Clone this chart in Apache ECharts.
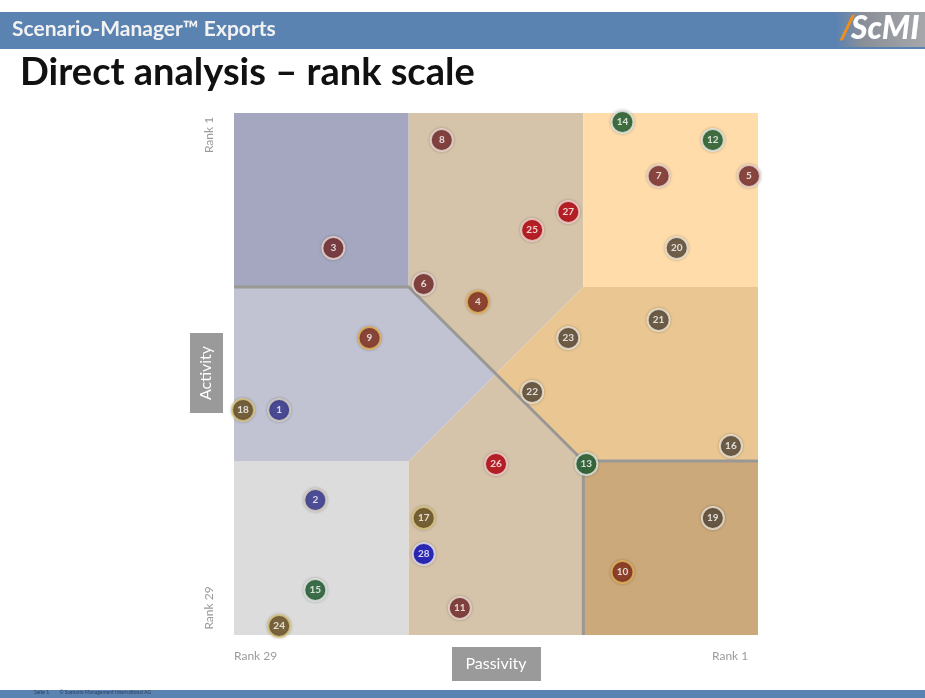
<!DOCTYPE html>
<html>
<head>
<meta charset="utf-8">
<script src="https://cdn.jsdelivr.net/npm/echarts@6/dist/echarts.min.js"></script>
<style>
  html, body { margin: 0; padding: 0; background: #fff; }
  #chart { width: 925px; height: 698px; }
</style>
</head>
<body>
<div id="chart"></div>
<script>
// factor numbers and their ranks (1 = highest)
const factors = ['1','2','3','4','5','6','7','8','9','10','11','12','13','14','15','16','17','18','19','20','21','22','23','24','25','26','27','28'];
const passivityRank = [27,25,24,16,1,19,6,18,22,8,17,3,10,8,25,2,19,29,3,5,6,13,11,27,13,15,11,19];
const activityRank  = [17,22,8,11,4,10,4,2,13,26,28,2,20,1,27,19,23,17,23,8,12,16,13,29,7,20,6,25];
const factorGroup = ['blue','blue','maroon','rust','maroon','maroon','maroon','maroon','rust','rust','maroon','green','green','green','green','slate','olive','olive','slate','slate','slate','slate','slate','olive','red','red','red','royal'];
const rankCount = 29;

// colours per group
const groupFill = {
  blue: '#34348f', maroon: '#762a2c', rust: '#842e1c', green: '#1d5c2e',
  slate: '#594a39', olive: '#6a5020', red: '#b8000e', royal: '#0a0ac0'
};
const groupRing = {
  blue: '#ddd7c8', maroon: '#f1dcd6', rust: '#e8b65c', green: '#e6eee6',
  slate: '#f3eadb', olive: '#e0cc86', red: '#f6d4d0', royal: '#e8e4f0'
};

// region borders in rank units (the square is split in thirds)
const lo = rankCount + 0.5, hi = 0.5;
const t1 = lo - rankCount / 3, t2 = hi + rankCount / 3, mid = (lo + hi) / 2;
const regions = [
  {c: '#a4a7bf', p: [[lo,hi],[t1,hi],[t1,t2],[lo,t2]]},
  {c: '#d6c4aa', p: [[t1,hi],[t2,hi],[t2,t2],[mid,mid],[t1,t2]]},
  {c: '#ffdca9', p: [[t2,hi],[hi,hi],[hi,t2],[t2,t2]]},
  {c: '#c1c3d3', p: [[lo,t2],[t1,t2],[mid,mid],[t1,t1],[lo,t1]]},
  {c: '#eac792', p: [[t2,t2],[hi,t2],[hi,t1],[t2,t1],[mid,mid]]},
  {c: '#dcdcdc', p: [[lo,t1],[t1,t1],[t1,lo],[lo,lo]]},
  {c: '#d6c4aa', p: [[t1,t1],[mid,mid],[t2,t1],[t2,lo],[t1,lo]]},
  {c: '#cba97b', p: [[t2,t1],[hi,t1],[hi,lo],[t2,lo]]}
];
const borders = [
  [[lo,t2],[t1,t2],[t2,t1],[hi,t1]],
  [[t2,t1],[t2,lo]]
];

const chart = echarts.init(document.getElementById('chart'));

const points = factors.map((f, i) => ({
  name: f,
  value: [passivityRank[i], activityRank[i]],
  itemStyle: { color: groupFill[factorGroup[i]], borderColor: groupRing[factorGroup[i]] }
}));

const font = 'Lato, "Open Sans", sans-serif';

chart.setOption({
  backgroundColor: '#fff',
  animation: false,
  grid: { left: 234, top: 113, width: 524, height: 522 },
  xAxis: { type: 'value', min: hi, max: lo, inverse: true, show: false },
  yAxis: { type: 'value', min: hi, max: lo, inverse: true, show: false },
  graphic: [
    { type: 'rect', shape: { x: 0, y: 12, width: 925, height: 37 }, style: { fill: '#5b83b2' } },
    { type: 'rect', shape: { x: 836, y: 12, width: 89, height: 35 },
      style: { fill: new echarts.graphic.LinearGradient(0, 0, 1, 0, [{offset: 0, color: '#5b83b2'}, {offset: 0.3, color: '#8a8f98'}, {offset: 1, color: '#a5a7aa'}]) } },
    { type: 'text', left: 12, top: 19, style: { text: 'Scenario-Manager™ Exports', fill: '#f2f2f2', font: 'bold 21px ' + font } },
    { type: 'text', left: 840, top: 12, style: { text: '/', fill: '#f0901a', font: 'italic bold 33px ' + font } },
    { type: 'text', left: 851, top: 13, style: { text: 'ScMI', fill: '#ffffff', font: 'italic 900 32px ' + font } },
    { type: 'text', left: 20, top: 54, style: { text: 'Direct analysis – rank scale', fill: '#111', font: 'bold 38px ' + font } },
    // axis captions
    { type: 'text', x: 209, y: 135, rotation: Math.PI / 2, style: { text: 'Rank 1', fill: '#9b9b9b', font: '12px ' + font, align: 'center', verticalAlign: 'middle' } },
    { type: 'text', x: 209, y: 608, rotation: Math.PI / 2, style: { text: 'Rank 29', fill: '#9b9b9b', font: '12px ' + font, align: 'center', verticalAlign: 'middle' } },
    { type: 'rect', shape: { x: 190, y: 333, width: 33, height: 80 }, style: { fill: '#9a9a9a' } },
    { type: 'text', x: 206, y: 373, rotation: Math.PI / 2, style: { text: 'Activity', fill: '#fff', font: '16px ' + font, align: 'center', verticalAlign: 'middle' } },
    { type: 'text', left: 234, top: 650, style: { text: 'Rank 29', fill: '#9b9b9b', font: '12px ' + font } },
    { type: 'text', left: 712, top: 650, style: { text: 'Rank 1', fill: '#9b9b9b', font: '12px ' + font } },
    { type: 'rect', shape: { x: 452, y: 647, width: 89, height: 34 }, style: { fill: '#9a9a9a' } },
    { type: 'text', x: 496, y: 664, style: { text: 'Passivity', fill: '#fff', font: '16px ' + font, align: 'center', verticalAlign: 'middle' } },
    // footer
    { type: 'rect', shape: { x: 0, y: 690, width: 925, height: 8 }, style: { fill: '#5b83b2' } },
    { type: 'text', left: 34, top: 690, style: { text: 'Seite 1        © Scenario Management International AG', fill: '#2c3f5a', font: '5px ' + font } }
  ],
  series: [
    {
      type: 'custom',
      silent: true,
      data: regions.map((r, i) => i),
      renderItem: (params, api) => {
        const r = regions[api.value(0)];
        return { type: 'polygon', shape: { points: r.p.map(p => api.coord(p)) }, style: { fill: r.c } };
      },
      z: 1
    },
    {
      type: 'custom',
      silent: true,
      data: borders.map((b, i) => i),
      renderItem: (params, api) => {
        const b = borders[api.value(0)];
        return { type: 'polyline', shape: { points: b.map(p => api.coord(p)) }, style: { stroke: '#9a9895', lineWidth: 3, fill: null } };
      },
      z: 2
    },
    {
      type: 'scatter',
      data: points,
      symbolSize: 22,
      itemStyle: { borderWidth: 2, shadowBlur: 3, shadowColor: 'rgba(0,0,0,0.25)' },
      label: { show: true, formatter: '{b}', color: '#fff', fontSize: 10, fontFamily: font, fontWeight: 'bold' },
      z: 3
    }
  ]
});
</script>
</body>
</html>
